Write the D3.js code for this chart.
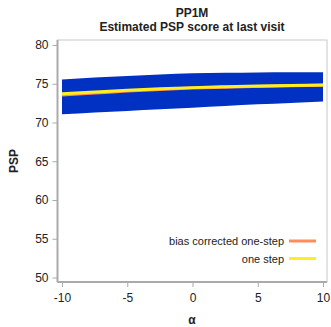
<!DOCTYPE html>
<html>
<head>
<meta charset="utf-8">
<script src="https://cdn.jsdelivr.net/npm/d3@7"></script>
<style>
  body { margin: 0; background: #fff; }
  text { font-family: "Liberation Sans", Arial, sans-serif; fill: #222; }
</style>
</head>
<body>
<svg id="chart" width="331" height="327"></svg>
<script>
// alpha values (sensitivity parameter)
const alpha = [-10, -7.5, -5, -2.5, 0, 2.5, 5, 7.5, 10];
// confidence band
const upper = [75.55, 75.8, 76.0, 76.2, 76.35, 76.42, 76.46, 76.48, 76.5];
const lower = [71.05, 71.28, 71.5, 71.7, 71.9, 72.12, 72.35, 72.53, 72.7];
// point estimates
const oneStep = [73.7, 73.93, 74.15, 74.34, 74.5, 74.61, 74.7, 74.78, 74.85];
const biasCorrected = [73.55, 73.8, 74.05, 74.26, 74.44, 74.56, 74.65, 74.73, 74.8];
const yTicks = [50, 55, 60, 65, 70, 75, 80];
const xTicks = [-10, -5, 0, 5, 10];

const svg = d3.select("#chart");
const frame = { left: 57.5, right: 327, top: 40, bottom: 282 };

const x = d3.scaleLinear().domain([-10, 10]).range([62, 323]);
const y = d3.scaleLinear().domain([50, 80]).range([277.5, 45]);

// frame
svg.append("rect")
  .attr("x", frame.left).attr("y", frame.top)
  .attr("width", frame.right - frame.left).attr("height", frame.bottom - frame.top)
  .attr("fill", "none").attr("stroke", "#c8c8c8").attr("stroke-width", 1);

// band
const area = d3.area()
  .x((d, i) => x(alpha[i]))
  .y0((d, i) => y(lower[i]))
  .y1((d, i) => y(upper[i]))
  .curve(d3.curveMonotoneX);
svg.append("path").datum(alpha).attr("d", area).attr("fill", "#0031c2");

const line = vals => d3.line()
  .x((d, i) => x(alpha[i]))
  .y((d, i) => y(vals[i]))
  .curve(d3.curveMonotoneX)(alpha);

svg.append("path").attr("d", line(biasCorrected))
  .attr("fill", "none").attr("stroke", "#ff8c5a").attr("stroke-width", 3);
svg.append("path").attr("d", line(oneStep))
  .attr("fill", "none").attr("stroke", "#ffee22").attr("stroke-width", 3);

// axes
const yAxis = svg.append("g")
  .attr("transform", "translate(" + frame.left + ",0)")
  .call(d3.axisLeft(y).tickValues(yTicks).tickSize(5).tickPadding(4));
const xAxis = svg.append("g")
  .attr("transform", "translate(0," + frame.bottom + ")")
  .call(d3.axisBottom(x).tickValues(xTicks).tickSize(5).tickPadding(6)
    .tickFormat(d => d < 0 ? "-" + Math.abs(d) : d));

[yAxis, xAxis].forEach(g => {
  g.select(".domain").attr("stroke", "#aaa").attr("stroke-width", 2);
  g.selectAll(".tick line").attr("stroke", "#aaa");
  g.selectAll(".tick text").attr("font-size", 12).attr("fill", "#222")
    .attr("font-family", "'Liberation Sans', Arial, sans-serif");
});
yAxis.select(".domain").attr("d", "M0," + frame.top + "V" + frame.bottom);
xAxis.select(".domain").attr("d", "M" + frame.left + ",0H" + frame.right);

// titles
svg.append("text").attr("x", 192).attr("y", 17).attr("text-anchor", "middle")
  .attr("font-size", 12).attr("font-weight", "bold").text("PP1M");
svg.append("text").attr("x", 192).attr("y", 31).attr("text-anchor", "middle")
  .attr("font-size", 12).attr("font-weight", "bold").text("Estimated PSP score at last visit");
svg.append("text").attr("transform", "translate(18,161) rotate(-90)")
  .attr("text-anchor", "middle").attr("font-size", 12).attr("font-weight", "bold").text("PSP");
svg.append("text").attr("x", 192).attr("y", 324).attr("text-anchor", "middle")
  .attr("font-size", 12).attr("font-weight", "bold").text("α");

// legend
const legend = [
  { name: "bias corrected one-step", color: "#ff8c5a" },
  { name: "one step", color: "#ffee22" }
];
legend.forEach((d, i) => {
  const ly = 241 + i * 17.5;
  svg.append("text").attr("x", 284).attr("y", ly + 4).attr("text-anchor", "end")
    .attr("font-size", 11).text(d.name);
  svg.append("line").attr("x1", 289).attr("x2", 316).attr("y1", ly).attr("y2", ly)
    .attr("stroke", d.color).attr("stroke-width", 3);
});
</script>
</body>
</html>
